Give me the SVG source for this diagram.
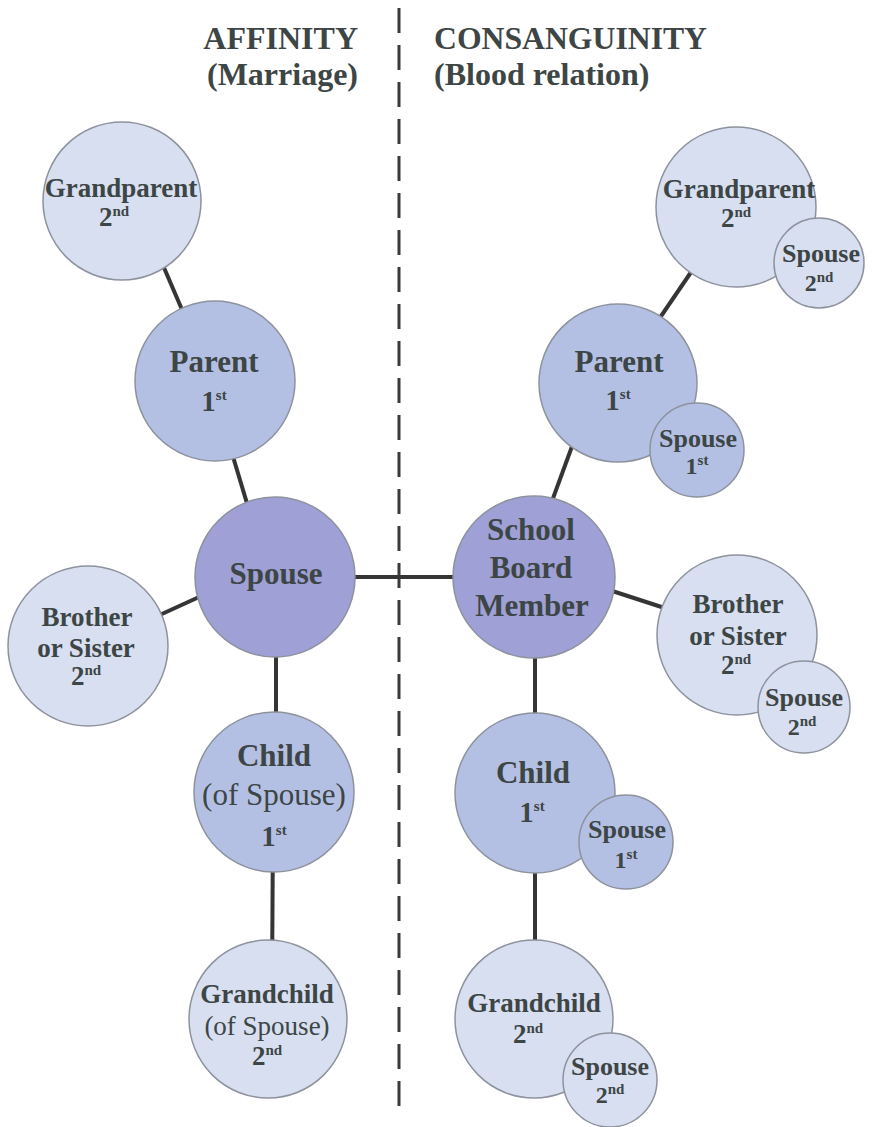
<svg xmlns="http://www.w3.org/2000/svg" width="874" height="1127" viewBox="0 0 874 1127">
<style>
text{font-family:"Liberation Serif","Times New Roman",serif;font-weight:bold;fill:#3d4545;text-anchor:middle}
.ha{font-size:32px;text-anchor:end}
.hb{font-size:32px;text-anchor:start}
.b{font-size:31px}
.bo{font-size:29px}
.l{font-size:27px}
.s{font-size:26px}
.so{font-size:24px}
.r{font-weight:normal}
.sup{font-size:15px}
circle{stroke:#8d929d;stroke-width:1.5}
.dark{fill:#9ea0d6}
.med{fill:#b4c0e3}
.lt{fill:#d7dff0}
#connectors line{stroke:#353535;stroke-width:4}
.div{stroke:#3a3a3a;stroke-width:3;stroke-dasharray:25 12}
</style>
<rect width="874" height="1127" fill="#ffffff"/>
<g id="headings">
<text class="ha" x="358" y="49">AFFINITY</text>
<text class="ha" x="358" y="85">(Marriage)</text>
<text class="hb" x="434" y="49" textLength="273" lengthAdjust="spacingAndGlyphs">CONSANGUINITY</text>
<text class="hb" x="434" y="85">(Blood relation)</text>
</g>
<g id="divider"><line class="div" x1="399" y1="8" x2="399" y2="1117"/></g>
<g id="connectors">
<line x1="150" y1="235" x2="195" y2="340"/>
<line x1="225" y1="430" x2="255" y2="530"/>
<line x1="210" y1="592" x2="140" y2="624"/>
<line x1="300" y1="577" x2="510" y2="577"/>
<line x1="276" y1="600" x2="276" y2="770"/>
<line x1="273" y1="820" x2="272" y2="990"/>
<line x1="548" y1="512" x2="578" y2="430"/>
<line x1="655" y1="325" x2="700" y2="259"/>
<line x1="600" y1="587" x2="680" y2="613"/>
<line x1="535" y1="600" x2="535" y2="770"/>
<line x1="535" y1="820" x2="535" y2="990"/>
</g>
<g id="l-grandparent">
<circle class="lt" cx="122" cy="201" r="79"/>
<text class="l" x="121" y="197">Grandparent</text>
<text class="l" x="114" y="226">2<tspan class="sup" dy="-10">nd</tspan></text>
</g>
<g id="l-parent">
<circle class="med" cx="215" cy="381" r="80"/>
<text class="b" x="214" y="372">Parent</text>
<text class="bo" x="214" y="411">1<tspan class="sup" dy="-11">st</tspan></text>
</g>
<g id="l-spouse">
<circle class="dark" cx="275" cy="577" r="80"/>
<text class="b" x="276" y="584">Spouse</text>
</g>
<g id="l-sibling">
<circle class="lt" cx="88" cy="646" r="80"/>
<text class="l" x="87" y="626">Brother</text>
<text class="l" x="86" y="657">or Sister</text>
<text class="l" x="86" y="685">2<tspan class="sup" dy="-10">nd</tspan></text>
</g>
<g id="l-child">
<circle class="med" cx="274" cy="792" r="80"/>
<text class="b" x="274" y="766">Child</text>
<text class="b r" x="274" y="805">(of Spouse)</text>
<text class="bo" x="274" y="846">1<tspan class="sup" dy="-11">st</tspan></text>
</g>
<g id="l-grandchild">
<circle class="lt" cx="268" cy="1019" r="79"/>
<text class="l" x="267" y="1003">Grandchild</text>
<text class="l r" x="267" y="1035">(of Spouse)</text>
<text class="l" x="267" y="1065">2<tspan class="sup" dy="-10">nd</tspan></text>
</g>
<g id="r-grandparent">
<circle class="lt" cx="736" cy="207" r="80"/>
<text class="l" x="739" y="198">Grandparent</text>
<text class="l" x="736" y="227">2<tspan class="sup" dy="-10">nd</tspan></text>
</g>
<g id="r-grandparent-spouse">
<circle class="lt" cx="819" cy="263" r="45"/>
<text class="s" x="821" y="262">Spouse</text>
<text class="so" x="819" y="291">2<tspan class="sup" dy="-9">nd</tspan></text>
</g>
<g id="r-parent">
<circle class="med" cx="618" cy="383" r="79"/>
<text class="b" x="619" y="372">Parent</text>
<text class="bo" x="618" y="410">1<tspan class="sup" dy="-11">st</tspan></text>
</g>
<g id="r-parent-spouse">
<circle class="med" cx="697" cy="450" r="47"/>
<text class="s" x="698" y="447">Spouse</text>
<text class="so" x="697" y="474">1<tspan class="sup" dy="-9">st</tspan></text>
</g>
<g id="board-member">
<circle class="dark" cx="534" cy="577" r="81"/>
<text class="b" x="531" y="540">School</text>
<text class="b" x="531" y="578">Board</text>
<text class="b" x="532" y="616">Member</text>
</g>
<g id="r-sibling">
<circle class="lt" cx="737" cy="635" r="80"/>
<text class="l" x="738" y="613">Brother</text>
<text class="l" x="738" y="645">or Sister</text>
<text class="l" x="736" y="674">2<tspan class="sup" dy="-10">nd</tspan></text>
</g>
<g id="r-sibling-spouse">
<circle class="lt" cx="804" cy="707" r="46"/>
<text class="s" x="804" y="706">Spouse</text>
<text class="so" x="802" y="735">2<tspan class="sup" dy="-9">nd</tspan></text>
</g>
<g id="r-child">
<circle class="med" cx="535" cy="793" r="80"/>
<text class="b" x="533" y="783">Child</text>
<text class="bo" x="532" y="822">1<tspan class="sup" dy="-11">st</tspan></text>
</g>
<g id="r-child-spouse">
<circle class="med" cx="626" cy="842" r="47"/>
<text class="s" x="627" y="838">Spouse</text>
<text class="so" x="626" y="868">1<tspan class="sup" dy="-9">st</tspan></text>
</g>
<g id="r-grandchild">
<circle class="lt" cx="534" cy="1019" r="79"/>
<text class="l" x="534" y="1012">Grandchild</text>
<text class="l" x="528" y="1043">2<tspan class="sup" dy="-10">nd</tspan></text>
</g>
<g id="r-grandchild-spouse">
<circle class="lt" cx="610" cy="1080" r="47"/>
<text class="s" x="610" y="1075">Spouse</text>
<text class="so" x="610" y="1103">2<tspan class="sup" dy="-9">nd</tspan></text>
</g>
</svg>
